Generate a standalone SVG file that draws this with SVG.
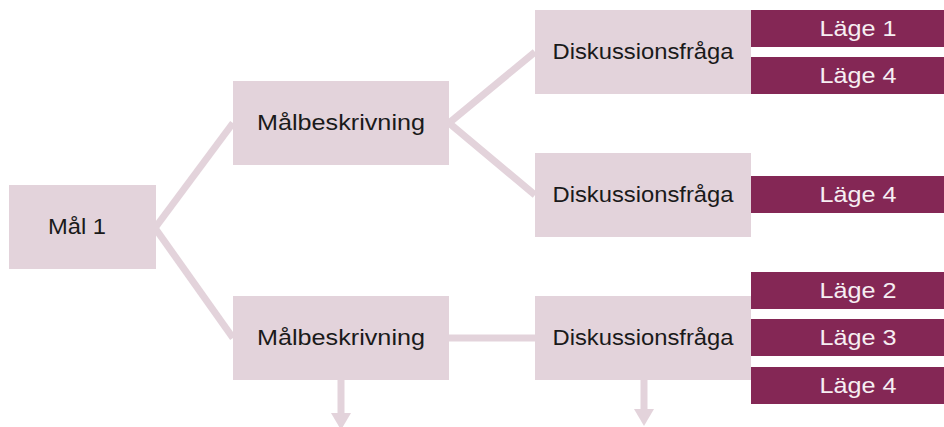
<svg xmlns="http://www.w3.org/2000/svg" width="944" height="427" viewBox="0 0 944 427">
<defs>
<style>
.lt{fill:#E3D3DB}
.dk{fill:#842755}
.tb{font-family:"Liberation Sans",Arial,sans-serif;font-size:22px;fill:#1a1a1a;text-anchor:middle}
.tw{font-family:"Liberation Sans",Arial,sans-serif;font-size:22px;fill:#F6EEF2;text-anchor:middle}
.ln{stroke:#E3D3DB;stroke-width:7;fill:none}
</style>
</defs>
<rect width="944" height="427" fill="#fff"/>
<g id="connectors">
<line class="ln" x1="155" y1="228" x2="233" y2="123"/>
<line class="ln" x1="155" y1="228" x2="233" y2="338"/>
<line class="ln" x1="449" y1="123" x2="535" y2="52"/>
<line class="ln" x1="449" y1="123" x2="535" y2="195"/>
<line class="ln" x1="449" y1="338" x2="535" y2="338"/>
<line class="ln" x1="341" y1="380" x2="341" y2="414"/>
<polygon class="lt" points="331,413 351,413 341,430"/>
<line class="ln" x1="644" y1="380" x2="644" y2="410"/>
<polygon class="lt" points="634,409 654,409 644,426"/>
</g>
<g id="mal1"><rect class="lt" x="9" y="185" width="147" height="84"/><text class="tb" x="77" y="234" textLength="58" lengthAdjust="spacingAndGlyphs">Mål 1</text></g>
<g id="malbeskrivning1"><rect class="lt" x="233" y="81" width="216" height="84"/><text class="tb" x="341" y="130" textLength="168" lengthAdjust="spacingAndGlyphs">Målbeskrivning</text></g>
<g id="malbeskrivning2"><rect class="lt" x="233" y="296" width="216" height="84"/><text class="tb" x="341" y="345" textLength="168" lengthAdjust="spacingAndGlyphs">Målbeskrivning</text></g>
<g id="diskussion1"><rect class="lt" x="535" y="10" width="216" height="84"/><text class="tb" x="643" y="59" textLength="181" lengthAdjust="spacingAndGlyphs">Diskussionsfråga</text></g>
<g id="diskussion2"><rect class="lt" x="535" y="153" width="216" height="84"/><text class="tb" x="643" y="202" textLength="181" lengthAdjust="spacingAndGlyphs">Diskussionsfråga</text></g>
<g id="diskussion3"><rect class="lt" x="535" y="296" width="216" height="84"/><text class="tb" x="643" y="345" textLength="181" lengthAdjust="spacingAndGlyphs">Diskussionsfråga</text></g>
<g id="lage1a"><rect class="dk" x="751" y="10" width="193" height="37"/><text class="tw" x="858" y="36" textLength="77" lengthAdjust="spacingAndGlyphs">Läge 1</text></g>
<g id="lage4a"><rect class="dk" x="751" y="57" width="193" height="37"/><text class="tw" x="858" y="83" textLength="77" lengthAdjust="spacingAndGlyphs">Läge 4</text></g>
<g id="lage4b"><rect class="dk" x="751" y="176" width="193" height="37"/><text class="tw" x="858" y="202" textLength="77" lengthAdjust="spacingAndGlyphs">Läge 4</text></g>
<g id="lage2"><rect class="dk" x="751" y="272" width="193" height="37"/><text class="tw" x="858" y="298" textLength="77" lengthAdjust="spacingAndGlyphs">Läge 2</text></g>
<g id="lage3"><rect class="dk" x="751" y="319" width="193" height="37"/><text class="tw" x="858" y="345" textLength="77" lengthAdjust="spacingAndGlyphs">Läge 3</text></g>
<g id="lage4c"><rect class="dk" x="751" y="367" width="193" height="37"/><text class="tw" x="858" y="393" textLength="77" lengthAdjust="spacingAndGlyphs">Läge 4</text></g>
</svg>
